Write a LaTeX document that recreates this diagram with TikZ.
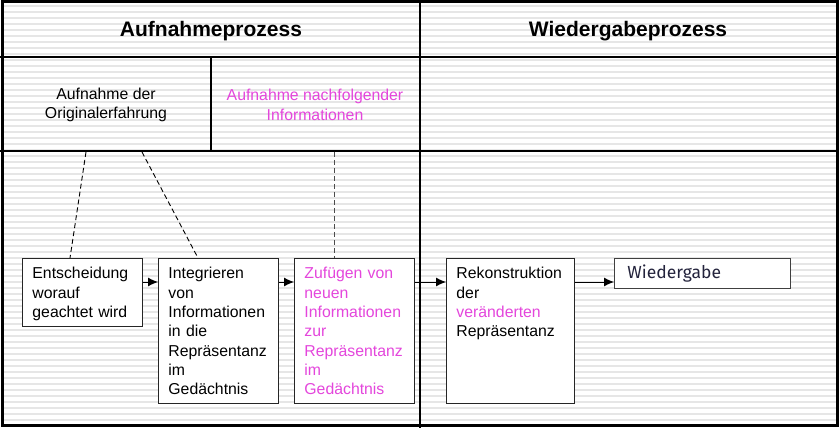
\documentclass[tikz,border=0pt]{standalone}
\usepackage{fontspec}
\setmainfont{Liberation Sans}
\newfontfamily\wfont{Fira Sans}
\usetikzlibrary{arrows.meta,calc}
\definecolor{mag}{RGB}{228,70,220}
\definecolor{stripecol}{RGB}{230,230,230}
\definecolor{navy}{RGB}{35,35,60}
\begin{document}
\begin{tikzpicture}[x=1pt,y=-1pt,
  stripe/.style={stripecol,line width=1.6pt},
  frame/.style={black,line width=1.6pt},
  title/.style={font=\fontsize{21}{25}\selectfont\bfseries},
  body/.style={font=\fontsize{15.8}{19.3}\selectfont},
  headtxt/.style={body,align=center},
  proc/.style={draw=black!85,line width=0.9pt,fill=white,anchor=north west,
    body,align=left,inner xsep=10pt,inner ysep=9pt,text height=11.5pt},
  link/.style={black,line width=0.9pt,dash pattern=on 5pt off 3pt},
  flow/.style={black,line width=0.9pt,-{Latex[length=10pt,width=9pt]}}
]
\useasboundingbox (0,0) rectangle (840,430);
\fill[white] (0,0) rectangle (840,430);
% stripes
\foreach \y in {6,12,...,424} \draw[stripe] (3,\y) -- (836,\y);
% frame
\draw[frame] (0,57) -- (839,57);
\draw[frame] (0,151) -- (839,151);
\draw[frame] (420,0) -- (420,428);
\draw[frame] (211,57) -- (211,151);
\draw[black,line width=3pt] (2,2) rectangle (837.5,425.5);
% titles
\node[title] (t1) at (211,31) {Aufnahmeprozess};
\node[title] (t2) at (628,31) {Wiedergabeprozess};
\node[headtxt] (h1) at (106,105) {Aufnahme der\\Originalerfahrung};
\node[headtxt,text=mag] (h2) at (315,105) {Aufnahme nachfolgender\\Informationen};
% boxes
\node[proc,text width=100pt,text depth=38.5pt] (b1) at (22,258)
  {Entscheidung\\worauf\\geachtet wird};
\node[proc,text width=100pt,text depth=115.5pt] (b2) at (158,258)
  {Integrieren\\von\\Informationen\\in die\\Repräsentanz\\im\\Gedächtnis};
\node[proc,text width=100pt,text depth=115.5pt,text=mag] (b3) at (294,258)
  {Zufügen von\\neuen\\Informationen\\zur\\Repräsentanz\\im\\Gedächtnis};
\node[proc,text width=108pt,text depth=115.5pt] (b4) at (446,258)
  {Rekonstruktion\\der\\\textcolor{mag}{veränderten}\\Repräsentanz};
\node[draw=black!75,line width=0.9pt,fill=white,anchor=north west,
  minimum height=30pt,text width=150pt,inner xsep=13pt,align=left,
  font=\wfont\fontsize{17.5}{20}\selectfont,text=navy] (b5) at (614,258) {Wiedergabe};
% dashed links
\coordinate (o1) at (86,152);
\coordinate (o2) at (142,152);
\coordinate (o3) at (334,152);
\draw[link] (o1) -- ([xshift=48pt]b1.north west);
\draw[link] (o2) -- ([xshift=40pt]b2.north west);
\draw[link,black!70] (o3) -- ([xshift=40pt]b3.north west);
% flow arrows
\draw[flow] ([yshift=-24pt]b1.north east) -- ([yshift=-24pt]b2.north west);
\draw[flow] ([yshift=-24pt]b2.north east) -- ([yshift=-24pt]b3.north west);
\draw[flow] ([yshift=-24pt]b3.north east) -- ([yshift=-24pt]b4.north west);
\draw[flow] ([yshift=-24pt]b4.north east) -- ([yshift=-24pt]b5.north west);
\end{tikzpicture}
\end{document}
